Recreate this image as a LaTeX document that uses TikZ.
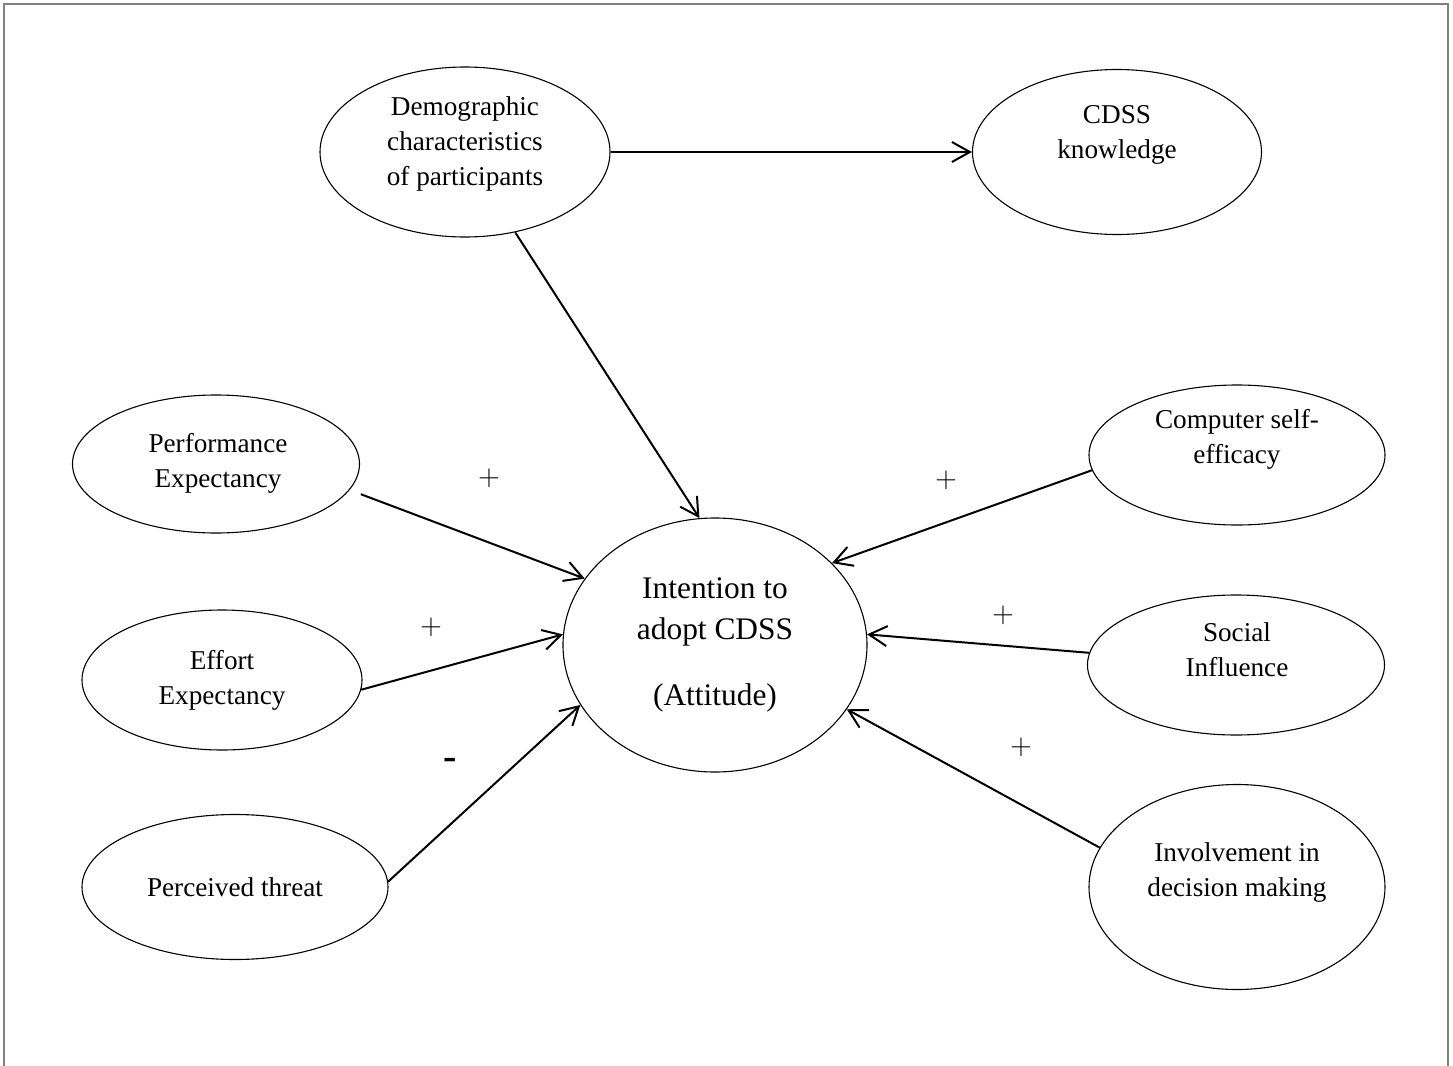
\documentclass[tikz,border=0pt]{standalone}
\usepackage{fontspec}
\setmainfont{Liberation Serif}
\usetikzlibrary{shapes.geometric,arrows.meta}

\begin{document}
\begin{tikzpicture}[x=0.5pt, y=-0.5pt,
  oval/.style={ellipse, draw=black, line width=0.55pt, inner sep=0pt},
  txt/.style={align=center, font=\fontsize{13.6}{17.5}\selectfont},
  bigtxt/.style={align=center, font=\fontsize{15.7}{20.5}\selectfont},
  conn/.style={-{Straight Barb[length=9pt,width=10pt]}, line width=1pt},
  sign/.style={font=\fontsize{13.4}{16}\selectfont}]
\useasboundingbox (0,0) rectangle (1453,1066);
% Frame
\draw[gray, line width=1.2pt] (4,1066) -- (4,4) -- (1448,4) -- (1448,1066);
% Ovals
\node[oval, minimum width=145pt, minimum height=85pt] (demo) at (465,152) {};
\node[oval, minimum width=144.5pt, minimum height=82.5pt] (know) at (1117,152) {};
\node[oval, minimum width=143.5pt, minimum height=69pt] (perf) at (216,464) {};
\node[oval, minimum width=140pt, minimum height=70pt] (effort) at (222,680) {};
\node[oval, minimum width=153pt, minimum height=72.5pt] (threat) at (235,887) {};
\node[oval, minimum width=152pt, minimum height=127pt] (intent) at (715,645) {};
\node[oval, minimum width=148pt, minimum height=70pt] (selfeff) at (1237,455) {};
\node[oval, minimum width=148.5pt, minimum height=70pt] (social) at (1236,665) {};
\node[oval, minimum width=148pt, minimum height=102.5pt] (involve) at (1237,887) {};
% Texts
\node[txt] (demo-t) at (465,144) {Demographic\\characteristics\\of participants};
\node[txt] (know-t) at (1117,135) {CDSS\\knowledge};
\node[txt] (perf-t) at (218,463) {Performance\\Expectancy};
\node[txt] (effort-t) at (222,680) {Effort\\Expectancy};
\node[txt] (threat-t) at (235,887) {Perceived threat};
\node[bigtxt] (intent-t) at (715,645) {Intention to\\adopt CDSS\\[12.5pt](Attitude)};
\node[txt] (selfeff-t) at (1237,439) {Computer self-\\efficacy};
\node[txt] (social-t) at (1237,650) {Social\\Influence};
\node[txt] (involve-t) at (1237,872) {Involvement in\\decision making};
% Signs
\node[sign] (s1) at (489,478) {$+$};
\node[sign] (s2) at (431,627) {$+$};
\node[font=\bfseries\fontsize{20}{24}\selectfont] (s3) at (450,764) {-};
\node[sign] (s4) at (946,480) {$+$};
\node[sign] (s5) at (1003,615) {$+$};
\node[sign] (s6) at (1021,747) {$+$};
% Arrows
\draw[conn] (demo) -- (know);
\draw[conn] (demo.-58) -- (intent.97);
\draw[conn, shorten <=6pt] (perf.-11) -- (intent.153);
\draw[conn] (effort.-4) -- (intent.176);
\draw[conn] (threat.2) -- (intent.-156);
\draw[conn] (selfeff.186) -- (intent.35);
\draw[conn] (social) -- (intent.4);
\draw[conn] (involve.164) -- (intent.-26);
\end{tikzpicture}
\end{document}
